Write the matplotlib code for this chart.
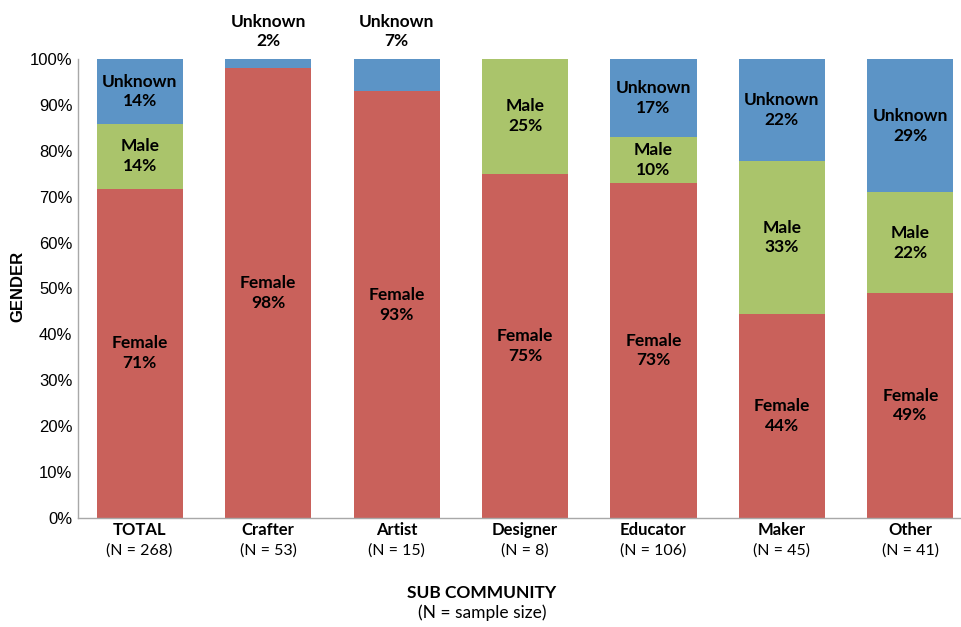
import numpy as np
import matplotlib
matplotlib.use("Agg")
import matplotlib.pyplot as plt

categories = ["TOTAL", "Crafter", "Artist", "Designer", "Educator", "Maker", "Other"]
sample_sizes = [268, 53, 15, 8, 106, 45, 41]
female = [71, 98, 93, 75, 73, 44, 49]
male = [14, 0, 0, 25, 10, 33, 22]
unknown = [14, 2, 7, 0, 17, 22, 29]

series = [("Female", female, "#C9615B"),
          ("Male", male, "#AAC46B"),
          ("Unknown", unknown, "#5C94C6")]

W, H = 962, 627
fig = plt.figure(figsize=(W / 100, H / 100), dpi=100)
ax = fig.add_axes([78 / W, (H - 518) / H, (W - 78) / W, (518 - 59) / H])

x = np.arange(len(categories))
totals = np.array(female) + np.array(male) + np.array(unknown)
bottom = np.zeros(len(categories))
label_font = dict(family=["Lato", "DejaVu Sans"], fontweight="bold", fontsize=12.5, color="black")

for name, vals, color in series:
    share = np.array(vals, dtype=float) / totals * 100
    ax.bar(x, share, bottom=bottom, width=0.67, color=color, edgecolor="none", zorder=2)
    for i, (v, s, b) in enumerate(zip(vals, share, bottom)):
        if v == 0:
            continue
        text = f"{name}\n{v}%"
        if s < 10:
            ax.text(x[i], 106.0, text, ha="center", va="center", linespacing=1.3,
                    clip_on=False, **label_font)
        else:
            ax.text(x[i], b + s / 2, text, ha="center", va="center", linespacing=1.3,
                    **label_font)
    bottom += share

ax.set_ylim(0, 100)
ax.set_xlim(-0.48, (W - 140) / 128.4)
ax.set_yticks(np.arange(0, 101, 10))
ax.set_yticklabels([f"{t}%" for t in range(0, 101, 10)],
                   fontfamily="Liberation Sans", fontsize=12)
ax.tick_params(axis="y", length=0, pad=4)
ax.set_xticks(x)
ax.set_xticklabels([])
ax.tick_params(axis="x", length=0)

for i, (c, n) in enumerate(zip(categories, sample_sizes)):
    ax.annotate(c, (x[i], 0), xytext=(0, -8.5), textcoords="offset points",
                ha="center", va="center", fontsize=12, fontweight="bold",
                family=["Lato", "DejaVu Sans"], annotation_clip=False)
    ax.annotate(f"(N = {n})", (x[i], 0), xytext=(0, -23.5), textcoords="offset points",
                ha="center", va="center", fontsize=11.5,
                family=["Lato", "DejaVu Sans"], annotation_clip=False)

for side in ("top", "right"):
    ax.spines[side].set_visible(False)
ax.spines["left"].set_color("#A8A8A8")
ax.spines["bottom"].set_color("#A8A8A8")
ax.spines["left"].set_linewidth(1.0)
ax.spines["bottom"].set_linewidth(1.0)

fig.text(18 / W, 1 - 286 / H, "GENDER", rotation=90, ha="center", va="center",
         fontsize=12, fontweight="bold", family=["Liberation Sans", "DejaVu Sans"])
fig.text(482 / W, 1 - 593 / H, "SUB COMMUNITY", ha="center", va="center",
         fontsize=12.5, fontweight="bold", family=["Lato", "DejaVu Sans"])
fig.text(482 / W, 1 - 613 / H, "(N = sample size)", ha="center", va="center",
         fontsize=12.5, family=["Lato", "DejaVu Sans"])

fig.savefig("out.png", dpi=100)
